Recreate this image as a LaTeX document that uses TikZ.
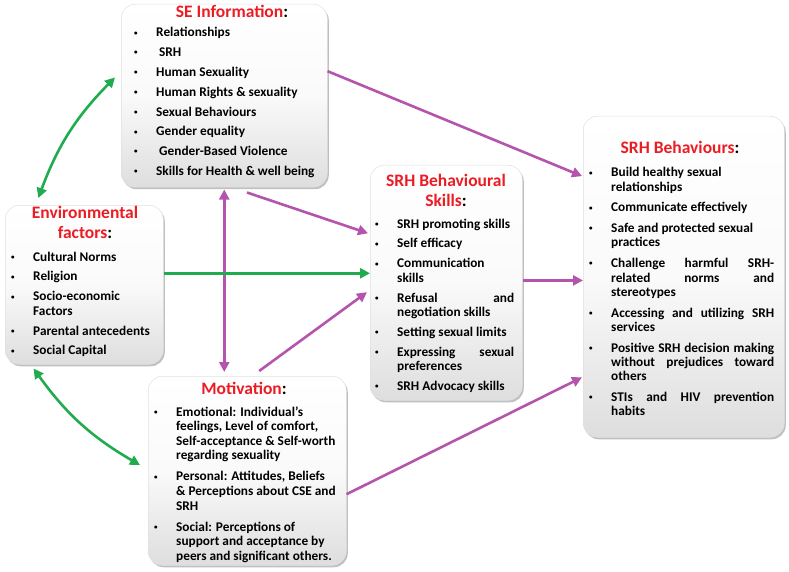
\documentclass[tikz,border=0pt]{standalone}
\usepackage{fontspec}
\setmainfont{Carlito}
\usetikzlibrary{arrows.meta,shadows,calc}
\definecolor{mag}{RGB}{180,84,172}
\definecolor{grn}{RGB}{32,172,78}
\definecolor{ttl}{RGB}{236,28,36}
\newcommand{\bi}[1]{\par\hangindent=22pt\hangafter=1\noindent\makebox[22pt][l]{\raisebox{1.8pt}{\fontsize{7}{7}\selectfont\textbullet}}#1}
\newcommand{\listbox}[4]{\parbox[t]{#1}{\fontsize{13.3}{#2}\selectfont\bfseries\setlength{\parskip}{#3}\hyphenpenalty=10000 #4}}
\tikzset{
  box/.style={draw=black!12, line width=0.5pt, rounded corners=14pt,
    top color=white, bottom color=black!13, middle color=black!2,
    drop shadow={shadow xshift=1.5pt, shadow yshift=-2pt, opacity=0.45, fill=black!55},
    anchor=north west, inner sep=0pt},
  ttlnode/.style={anchor=base, inner sep=0pt, font=\fontsize{17.5}{19.5}\selectfont\bfseries, text=ttl, align=center},
  body/.style={anchor=base west, inner sep=0pt},
  marr/.style={draw=mag, line width=2.6pt, -{Triangle[length=10pt,width=10pt]}},
  marr2/.style={draw=mag, line width=2.6pt, {Triangle[length=10pt,width=10pt]}-{Triangle[length=10pt,width=10pt]}},
  garr/.style={draw=grn, line width=2.6pt, -{Triangle[length=10pt,width=10pt]}},
  garr2/.style={draw=grn, line width=2.6pt, {Triangle[length=10pt,width=10pt]}-{Triangle[length=10pt,width=10pt]}},
}
\begin{document}
\begin{tikzpicture}[x=1pt,y=-1pt]
\useasboundingbox (0,0) rectangle (789,572);
% boxes
\node[box, minimum width=206pt, minimum height=183pt] (se) at (121,4) {};
\node[box, minimum width=158pt, minimum height=159pt] (env) at (5,205) {};
\node[box, minimum width=152pt, minimum height=235pt] (sk) at (370,165) {};
\node[box, minimum width=201pt, minimum height=321pt] (beh) at (583,116) {};
\node[box, minimum width=198pt, minimum height=189pt] (mot) at (148,376) {};
% titles
\node[ttlnode] (seT) at (232,18) {SE Information\textcolor{black}{:}};
\node[ttlnode] (envT) at (85,238) {Environmental\\factors\textcolor{black}{:}};
\node[ttlnode] (skT) at (446,206) {SRH Behavioural\\Skills\textcolor{black}{:}};
\node[ttlnode] (behT) at (680,154) {SRH Behaviours\textcolor{black}{:}};
\node[ttlnode] (motT) at (244,394) {Motivation\textcolor{black}{:}};
% lists
\node[body] (seL) at (134,37) {\listbox{192pt}{14.3pt}{5.5pt}{%
\bi{Relationships}
\bi{\hspace{3pt}SRH}
\bi{Human Sexuality}
\bi{Human Rights \& sexuality}
\bi{Sexual Behaviours}
\bi{Gender equality}
\bi{\hspace{3pt}Gender-Based Violence}
\bi{Skills for Health \& well being}}};
\node[body] (envL) at (11,261) {\listbox{150pt}{14.3pt}{5.6pt}{%
\bi{Cultural Norms}
\bi{Religion}
\bi{Socio-economic\newline Factors}
\bi{Parental antecedents}
\bi{Social Capital}}};
\node[body] (skL) at (375,228) {\listbox{139pt}{14.3pt}{5.6pt}{%
\bi{SRH promoting skills}
\bi{Self efficacy}
\bi{Communication\newline skills}
\bi{Refusal and\linebreak negotiation skills}
\bi{Setting sexual limits}
\bi{Expressing sexual\linebreak preferences}
\bi{SRH Advocacy skills}}};
\node[body] (behL) at (589,177) {\listbox{185pt}{14.4pt}{6.2pt}{%
\bi{Build healthy sexual\newline relationships}
\bi{Communicate effectively}
\bi{Safe and protected sexual\newline practices}
\bi{Challenge harmful SRH-\linebreak related norms and\linebreak stereotypes}
\bi{Accessing and utilizing SRH\linebreak services}
\bi{Positive SRH decision making\linebreak without prejudices toward\linebreak others}
\bi{STIs and HIV prevention\linebreak habits}}};
\node[body] (motL) at (154,416) {\listbox{190pt}{14.6pt}{6.4pt}{%
\bi{Emotional: Individual’s\newline feelings, Level of comfort,\newline Self-acceptance \& Self-worth\newline regarding sexuality}
\bi{Personal: Attitudes, Beliefs\newline \& Perceptions about CSE and\newline SRH}
\bi{Social: Perceptions of\newline support and acceptance by\newline peers and significant others.}}};
% connector end points
\coordinate (a1) at ($(se.north east)!0.366!(se.south east)$);
\coordinate (b1) at ($(beh.north west)!0.187!(beh.south west)+(-1,0)$);
\coordinate (a2) at ($(se.south west)!0.61!(se.south east)+(0,5)$);
\coordinate (b2) at ($(sk.north west)!0.29!(sk.south west)+(-2,0)$);
\coordinate (a3) at ($(se.south)+(0,2)$);
\coordinate (b3) at ($(se.south |- mot.north)+(0,-4)$);
\coordinate (a4) at ($(mot.north west)!0.56!(mot.north east)+(0,-5)$);
\coordinate (b4) at ($(sk.north west)!0.54!(sk.south west)+(-3,0)$);
\coordinate (a5) at ($(env.north east)!0.428!(env.south east)$);
\coordinate (a6) at ($(sk.north east)!0.49!(sk.south east)$);
\coordinate (a7) at ($(mot.north east)!0.624!(mot.south east)$);
\coordinate (b7) at ($(beh.north west)!0.813!(beh.south west)+(-1,0)$);
\coordinate (a8) at ($(env.north west)!0.21!(env.north east)+(0,-7)$);
\coordinate (b8) at ($(se.north west)!0.40!(se.south west)+(-6,0)$);
\coordinate (a9) at ($(env.south west)!0.18!(env.south east)+(0,4)$);
\coordinate (b9) at ($(mot.north west)!0.47!(mot.south west)+(-8,0)$);
% connectors
\draw[marr] (a1) -- (b1);
\draw[marr] (a2) -- (b2);
\draw[marr2] (a3) -- (b3);
\draw[marr] (a4) -- (b4);
\draw[garr] (a5) -- (a5 -| sk.west);
\draw[marr] (a6) -- (a6 -| beh.west);
\draw[marr] (a7) -- (b7);
\draw[garr2] (a8) to[bend left=12] (b8);
\draw[garr2] (a9) to[bend right=12] (b9);
\end{tikzpicture}
\end{document}
